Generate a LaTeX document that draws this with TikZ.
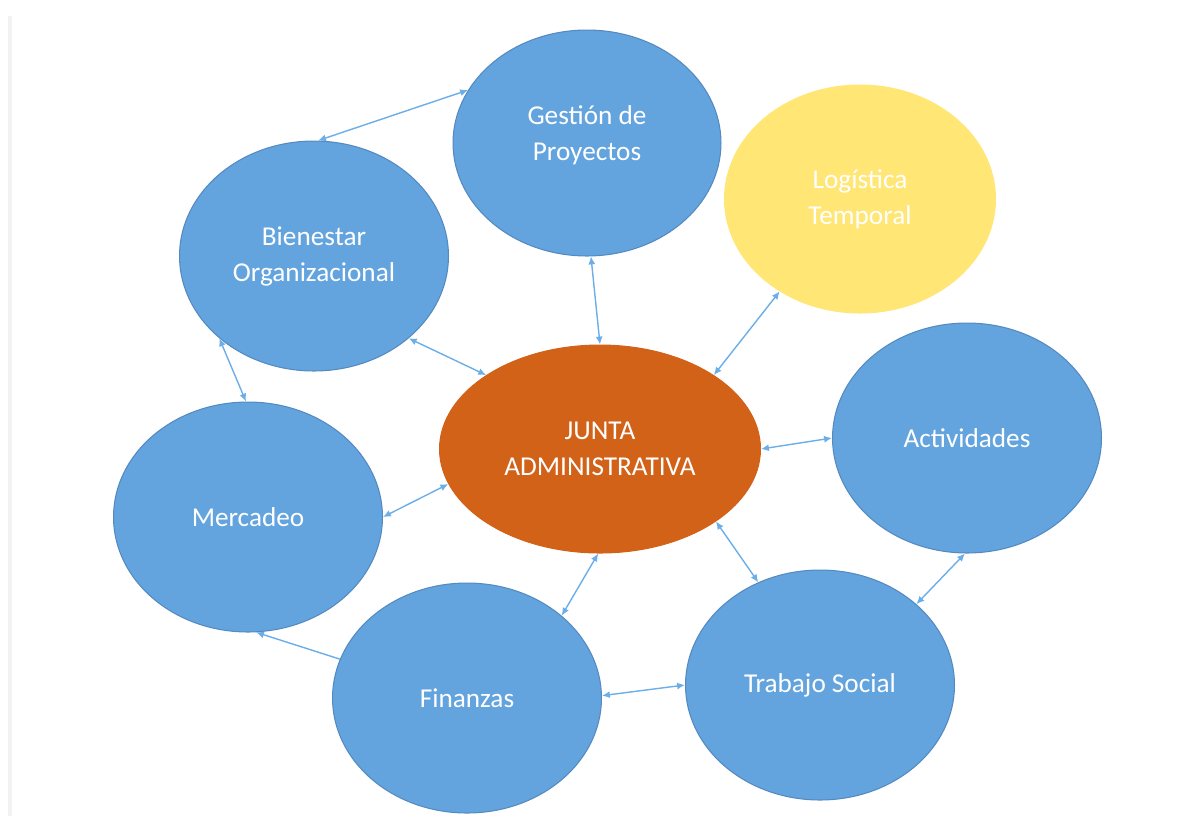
\documentclass[tikz,border=0pt]{standalone}
\usepackage{fontspec}
\setmainfont{Carlito}
\usetikzlibrary{shapes,arrows.meta,positioning}
\definecolor{azul}{RGB}{99,164,222}
\definecolor{borde}{RGB}{84,138,192}
\definecolor{naranja}{RGB}{209,98,24}
\definecolor{amarillo}{RGB}{255,230,117}
\definecolor{flecha}{RGB}{108,174,232}
\begin{document}
\begin{tikzpicture}[x=0.02cm,y=-0.02cm,
    area/.style={ellipse,draw=borde,fill=azul,line width=0.6pt,inner sep=0pt,
        minimum width=5.38cm,minimum height=4.6cm,text=white,align=center,
        font=\fontsize{15.5}{20.5}\selectfont},
    punta/.tip={Latex[length=4.5pt,width=4pt]},
    enlace/.style={draw=flecha,line width=0.8pt}]
\useasboundingbox (0,0) rectangle (1192,816);
\draw[black!5,line width=2pt] (10,816) -- (10,16);

\node[area,minimum width=5.36cm,minimum height=4.52cm] (G) at (587,143) {Gestión de\\Proyectos\\[-9pt]};
\node[area,fill=amarillo,draw=amarillo,minimum width=5.42cm,minimum height=4.56cm] (L) at (860,199) {Logística\\Temporal};
\node[area] (B) at (314,256) {Bienestar\\Organizacional};
\node[area,fill=naranja,draw=naranja,minimum width=6.42cm,minimum height=4.16cm] (J) at (600,449) {JUNTA\\ADMINISTRATIVA};
\node[area] (A) at (967,438) {Actividades};
\node[area] (M) at (248,517) {Mercadeo};
\node[area] (F) at (467,698) {Finanzas};
\node[area] (T) at (820,685) {Trabajo Social};

\foreach \a/\b in {G.156/B.88, G.-88/J.90, L.-131/J.33, B.-41/J.147, B.-139/M.91,
                   J.0/A.180, J.193/M.0, J.-91/F.41, J.-32/T.121, A.-91/T.40, F.1/T.180}
    \draw[enlace,punta-punta] (\a) -- (\b);
\draw[enlace,-punta] (F.163) -- (M.-86);
\end{tikzpicture}
\end{document}
